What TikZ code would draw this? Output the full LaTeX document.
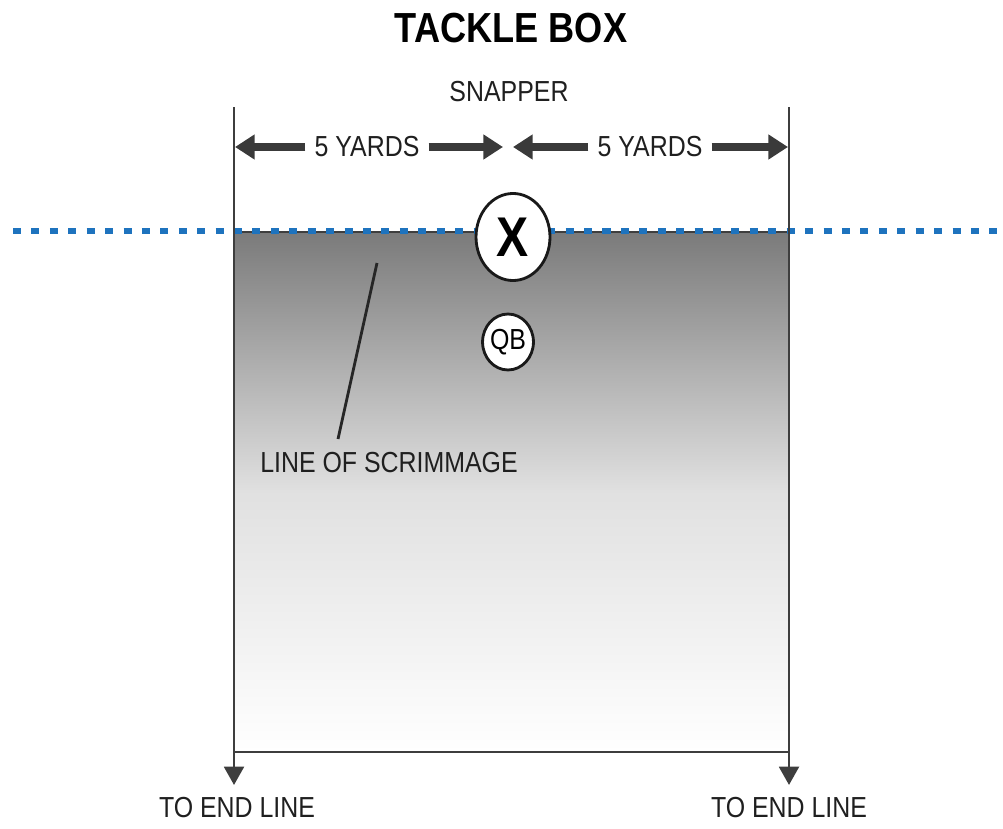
\documentclass[tikz,border=0pt]{standalone}
\usepackage{fontspec}
\setmainfont{Liberation Sans}[FakeStretch=0.86]
\usetikzlibrary{arrows.meta,shapes.geometric}
\definecolor{losblue}{RGB}{30,115,190}
\definecolor{arrowgray}{RGB}{58,58,58}
\definecolor{linegray}{RGB}{62,62,62}
\tikzstyle{boxtext}=[font=\fontsize{20.6}{24}\selectfont, text=black!88, inner sep=6.4pt]
\tikzstyle{yardarrow}=[draw=arrowgray, line width=5pt, -{Triangle[length=14pt,width=17pt]}]
\tikzstyle{endarrow}=[draw=linegray, line width=2.1pt, -{Triangle[length=13pt,width=14pt]}]
\tikzstyle{player}=[ellipse, draw=black!90, line width=2pt, fill=white, inner sep=0pt]
\tikzstyle{scrimline}=[draw=losblue, line width=4.3pt, dash pattern=on 5.7pt off 7.4pt]

\begin{document}
\begin{tikzpicture}[x=0.025cm, y=0.025cm]
\useasboundingbox (0,0) rectangle (1003,-828);
% box corners and line ends
\coordinate (boxTL) at (234,-232);
\coordinate (boxTR) at (789,-232);
\coordinate (boxBL) at (234,-752);
\coordinate (boxBR) at (789,-752);
\coordinate (topL) at (234,-107);
\coordinate (topR) at (789,-107);
\coordinate (tipL) at (234,-785);
\coordinate (tipR) at (789,-785);
\coordinate (losW) at (13,-231);
\coordinate (losE) at (1003,-231);
\shade[top color=black!52, bottom color=white, middle color=black!12] (boxTL) rectangle (boxBR);
\draw[linegray, line width=0.8pt] (boxTL) -- (boxTR);
\draw[scrimline] (losW) -- (losE);
\draw[endarrow] (topL) -- (tipL);
\draw[endarrow] (topR) -- (tipR);
\draw[linegray, line width=2.1pt] (boxBL) -- (boxBR);

\node[font=\fontsize{29.9}{34}\selectfont\bfseries] (title) at (511,-28) {TACKLE BOX};
\node[boxtext] (snaplbl) at (509,-92) {SNAPPER};

% yard markers
\coordinate (yardL) at (235,-147);
\coordinate (snapW) at (503,-147);
\coordinate (snapE) at (513,-147);
\coordinate (yardR) at (788,-147);
\node[boxtext] (yardsL) at (367,-147) {5 YARDS};
\node[boxtext] (yardsR) at (650,-147) {5 YARDS};
\draw[yardarrow] (yardsL.west) -- (yardL);
\draw[yardarrow] (yardsL.east) -- (snapW);
\draw[yardarrow] (yardsR.west) -- (snapE);
\draw[yardarrow] (yardsR.east) -- (yardR);

\node[player, minimum width=52.6pt, minimum height=61.9pt,
      font=\fontsize{39.8}{44}\selectfont\bfseries] (snapper) at (513,-237) {X};
\node[player, minimum width=34.9pt, minimum height=39.8pt,
      font=\fontsize{20.6}{24}\selectfont] (qb) at (508,-342) {QB};

\node[boxtext] (scrim) at (389,-463) {LINE OF SCRIMMAGE};
\coordinate (losPt) at (377,-263);
\coordinate (losEnd) at (338,-439);
\draw[black!85, line width=2pt] (losPt) -- (losEnd);

\node[boxtext] (endL) at (237,-808) {TO END LINE};
\node[boxtext] (endR) at (789,-808) {TO END LINE};
\end{tikzpicture}
\end{document}
